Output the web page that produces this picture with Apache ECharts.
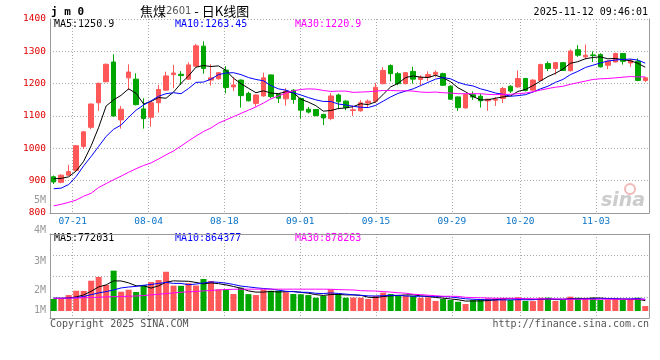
<!DOCTYPE html>
<html><head><meta charset="utf-8">
<script src="https://cdn.jsdelivr.net/npm/echarts@6/dist/echarts.min.js"></script>
<style>html,body{margin:0;padding:0;background:#fff}#c{width:660px;height:360px}</style>
</head><body><div id="c"></div>
<script>
// ---- data ----
const dates = ['07-16','07-17','07-18','07-21','07-22','07-23','07-24','07-25','07-28','07-29','07-30','07-31',
 '08-01','08-04','08-05','08-06','08-07','08-08','08-11','08-12','08-13','08-14','08-15','08-18','08-19','08-20','08-21','08-22','08-25','08-26','08-27','08-28','08-29',
 '09-01','09-02','09-03','09-04','09-05','09-08','09-09','09-10','09-11','09-12','09-15','09-16','09-17','09-18','09-19','09-22','09-23','09-24','09-25','09-26','09-29','09-30',
 '10-09','10-10','10-13','10-14','10-15','10-16','10-17','10-20','10-21','10-22','10-23','10-24','10-27','10-28','10-29','10-30','10-31',
 '11-03','11-04','11-05','11-06','11-07','11-10','11-11','11-12'];
const labelDates = ['07-21','08-04','08-18','09-01','09-15','09-29','10-20','11-03'];

const opens = [912,895,917,932,1006,1065,1141,1206,1267,1088,
 1218,1214,1122,1096,1141,1180,1228,1229,1214,1254,
 1316,1211,1215,1242,1190,1211,1170,1139,1162,1227,
 1168,1153,1180,1154,1121,1120,1105,1092,1165,1146,
 1117,1116,1140,1146,1200,1256,1231,1200,1238,1213,
 1220,1229,1231,1192,1159,1125,1166,1161,1147,1149,
 1154,1192,1190,1216,1180,1210,1262,1247,1265,1240,
 1305,1283,1289,1290,1257,1267,1293,1264,1269,1210];
const closes = [896,917,928,1008,1051,1137,1201,1260,1100,1121,
 1236,1135,1092,1141,1182,1224,1233,1225,1258,1317,
 1247,1218,1234,1188,1196,1163,1147,1165,1218,1160,
 1155,1177,1151,1118,1112,1101,1094,1162,1144,1126,
 1119,1141,1146,1189,1241,1231,1200,1234,1214,1220,
 1228,1235,1195,1152,1126,1167,1159,1147,1152,1151,
 1185,1177,1216,1179,1211,1259,1247,1265,1241,1301,
 1288,1288,1287,1252,1270,1293,1269,1271,1210,1218];
const highs = [916,919,949,1010,1053,1139,1203,1262,1291,1131,
 1260,1232,1155,1143,1196,1237,1258,1239,1266,1323,
 1331,1260,1236,1254,1220,1213,1175,1167,1234,1229,
 1170,1186,1183,1156,1128,1122,1107,1171,1169,1149,
 1133,1149,1151,1202,1251,1260,1236,1236,1252,1226,
 1238,1241,1234,1195,1160,1169,1176,1169,1153,1159,
 1190,1195,1241,1218,1214,1262,1269,1266,1267,1306,
 1319,1321,1300,1294,1271,1296,1295,1277,1278,1221];
const lows = [890,892,915,930,998,1059,1116,1204,1098,1061,
 1180,1133,1061,1067,1111,1178,1186,1196,1212,1252,
 1231,1194,1213,1170,1177,1126,1145,1129,1160,1155,
 1140,1132,1138,1092,1108,1099,1072,1087,1121,1118,
 1100,1113,1126,1140,1198,1207,1195,1198,1200,1195,
 1208,1220,1193,1150,1116,1123,1150,1126,1116,1131,
 1140,1171,1188,1176,1178,1208,1239,1228,1239,1238,
 1283,1275,1267,1250,1245,1265,1259,1252,1208,1205];

const ma5 = [906,907,912,930,960,1008,1065,1131,1150,1164,
 1184,1170,1137,1145,1157,1155,1174,1201,1224,1251,
 1256,1253,1255,1241,1217,1200,1186,1172,1178,1171,
 1169,1175,1172,1152,1143,1132,1115,1117,1123,1125,
 1129,1138,1135,1144,1167,1190,1201,1219,1224,1220,
 1219,1226,1218,1206,1187,1175,1160,1150,1150,1155,
 1159,1162,1176,1182,1194,1208,1222,1232,1245,1263,
 1268,1277,1281,1283,1277,1278,1274,1271,1263,1250.9];
const ma10 = [875,877,888,913,946,975,1006,1037,1059,1072,
 1096,1118,1134,1147,1161,1169,1172,1169,1185,1204,
 1205,1214,1228,1233,1234,1228,1219,1213,1209,1194,
 1184,1180,1172,1165,1157,1150,1145,1145,1137,1134,
 1130,1127,1126,1133,1146,1159,1170,1177,1184,1194,
 1204,1214,1219,1215,1204,1197,1193,1184,1178,1171,
 1167,1161,1163,1166,1174,1184,1192,1204,1213,1228,
 1238,1250,1257,1264,1270,1273,1275,1276,1273,1263.45];
const ma30 = [822,827,833,840,852,861,879,891,903,914,
 926,937,947,955,967,980,992,1007,1023,1038,
 1052,1063,1078,1088,1098,1108,1118,1128,1140,1153,
 1162,1171,1178,1182,1184,1183,1179,1176,1177,1177,
 1173,1174,1175,1177,1179,1179,1178,1178,1177,1174,
 1173,1174,1172,1171,1169,1169,1169,1169,1167,1166,
 1167,1167,1169,1171,1175,1180,1185,1189,1192,1198,
 1203,1208,1213,1215,1216,1218,1220,1222,1221,1220.9];

const volumes = [900000,900000,1190000,1510000,1500000,2260000,2540000,1940000,3010000,1440000,
 1590000,1420000,1940000,2160000,2310000,2930000,1890000,1880000,2070000,1900000,
 2390000,2240000,1620000,1610000,1270000,1740000,1260000,1190000,1600000,1510000,
 1520000,1400000,1270000,1250000,1190000,990000,1120000,1620000,1270000,990000,
 1000000,990000,900000,1120000,1370000,1270000,1120000,1140000,1130000,990000,
 1020000,750000,900000,820000,690000,520000,820000,900000,950000,950000,
 960000,820000,1020000,750000,740000,990000,1000000,750000,820000,1070000,
 990000,980000,990000,820000,870000,900000,820000,830000,990000,370000];
const volMa5 = [950000,950000,970000,1050000,1200000,1470000,1800000,1950000,2250000,2240000,
 2100000,1880000,1880000,1710000,1880000,2150000,2250000,2230000,2220000,2130000,
 2030000,2100000,2040000,1950000,1830000,1700000,1500000,1410000,1410000,1460000,
 1420000,1440000,1460000,1390000,1330000,1220000,1160000,1230000,1240000,1200000,
 1200000,1170000,1030000,1000000,1080000,1130000,1160000,1200000,1210000,1130000,
 1080000,1010000,960000,900000,840000,740000,750000,750000,780000,830000,
 920000,920000,940000,900000,860000,860000,900000,850000,860000,930000,
 930000,920000,970000,970000,930000,910000,880000,850000,880000,772031];
const volMa10 = [950000,950000,960000,1000000,1080000,1220000,1350000,1450000,1570000,1720000,
 1790000,1840000,1920000,1980000,2060000,2130000,2060000,2060000,1960000,2010000,
 2090000,2170000,2140000,2080000,1980000,1860000,1800000,1730000,1680000,1640000,
 1560000,1470000,1440000,1400000,1390000,1320000,1300000,1350000,1310000,1260000,
 1210000,1170000,1130000,1120000,1140000,1170000,1170000,1120000,1100000,1100000,
 1110000,1080000,1080000,1050000,980000,910000,880000,850000,840000,830000,
 830000,830000,850000,840000,840000,890000,910000,890000,880000,890000,
 900000,910000,910000,920000,930000,920000,900000,910000,930000,864377];
const volMa30 = [950000,950000,960000,970000,990000,1000000,1030000,1050000,1070000,1080000,
 1100000,1120000,1150000,1200000,1250000,1300000,1350000,1400000,1430000,1460000,
 1500000,1530000,1570000,1600000,1620000,1630000,1630000,1630000,1630000,1630000,
 1630000,1630000,1630000,1630000,1630000,1630000,1630000,1620000,1600000,1580000,
 1570000,1520000,1500000,1490000,1450000,1410000,1360000,1330000,1250000,1220000,
 1180000,1140000,1100000,1100000,1090000,1020000,1000000,990000,970000,950000,
 950000,950000,940000,920000,910000,900000,900000,900000,890000,880000,
 880000,880000,880000,880000,880000,880000,880000,880000,880000,878263];

const volTickLabels = ['5M','4M','3M','2M','1M'];
const legendMain = ['MA5:1250.9','MA10:1263.45','MA30:1220.9'];
const legendVol = ['MA5:772031','MA10:864377','MA30:878263'];

// ---- styles ----
const UP = '#FF5858', DOWN = '#00A600';
const MONO = "'DejaVu Sans Mono', 'Liberation Mono', monospace";
const GRID_LINE = {color:'#aaaaaa', type:[1,2], width:1};
const AXIS_LINE = {color:'#999999', width:1};
const showDate = (i, v) => labelDates.indexOf(v) >= 0;

const chart = echarts.init(document.getElementById('c'), null, {renderer:'canvas'});

const txt = (x, y, text, fill, font, align) => ({
  type:'text', x:x, y:y, silent:true,
  style:{text:text, fill:fill, font:font, textAlign:align||'left', textVerticalAlign:'middle'}
});

const graphics = [
  txt(51, 12, 'j m 0', '#000', "bold 11px " + MONO),
  {type:'text', x:140, y:11, silent:true, style:{
    text:'{a|焦煤}{b|2601}{a| - 日K线图}', textVerticalAlign:'middle',
    rich:{a:{fontFamily:"'Noto Sans CJK SC', sans-serif", fontSize:13, fill:'#000'},
          b:{fontFamily:"'DejaVu Sans', sans-serif", fontSize:10, fill:'#555'}}}},
  txt(648, 12, '2025-11-12 09:46:01', '#000', "10px " + MONO, 'right'),
  txt(54, 24, legendMain[0], '#000000', "10px " + MONO),
  txt(175, 24, legendMain[1], '#0000FF', "10px " + MONO),
  txt(295, 24, legendMain[2], '#FF00FF', "10px " + MONO),
  txt(54, 238.5, legendVol[0], '#000000', "10px " + MONO),
  txt(175, 238.5, legendVol[1], '#0000FF', "10px " + MONO),
  txt(295, 238.5, legendVol[2], '#FF00FF', "10px " + MONO),
  txt(46, 200.7, volTickLabels[0], '#999', "10px " + MONO, 'right'),
  txt(46, 230.7, volTickLabels[1], '#999', "10px " + MONO, 'right'),
  txt(46, 261, volTickLabels[2], '#999', "10px " + MONO, 'right'),
  txt(46, 290, volTickLabels[3], '#999', "10px " + MONO, 'right'),
  txt(46, 310, volTickLabels[4], '#999', "10px " + MONO, 'right'),
  txt(50, 324, 'Copyright 2025 SINA.COM', '#555', "10px " + MONO),
  txt(649, 324, 'http://finance.sina.com.cn', '#555', "10px " + MONO, 'right'),
  {type:'circle', shape:{cx:630, cy:189, r:5}, silent:true, style:{fill:'none', stroke:'#f2b8b8', lineWidth:2}},
  txt(601, 201, 'sina', '#cccccc', "italic bold 19px 'DejaVu Sans', sans-serif")
];

const lineS = (data, color, xi, yi) => ({
  type:'line', data:data, xAxisIndex:xi, yAxisIndex:yi, symbol:'none', showSymbol:false,
  silent:true, lineStyle:{color:color, width:1}, itemStyle:{color:color}, z:3
});

chart.setOption({
  animation:false,
  backgroundColor:'#ffffff',
  graphic:graphics,
  grid:[
    {left:50, top:19, width:599, height:194},
    {left:50, top:234, width:599, height:84}
  ],
  xAxis:[
    {gridIndex:0, type:'category', data:dates, boundaryGap:true, position:'bottom', show:false},
    {gridIndex:0, type:'category', data:dates, boundaryGap:false, position:'bottom',
     axisLine:{show:true, onZero:false, lineStyle:AXIS_LINE}, axisTick:{show:false},
     axisLabel:{show:true, interval:showDate, color:'#0A74C8', fontFamily:MONO, fontSize:9.5, margin:4},
     splitLine:{show:true, interval:showDate, lineStyle:GRID_LINE}},
    {gridIndex:1, type:'category', data:dates, boundaryGap:true, position:'bottom', show:false},
    {gridIndex:1, type:'category', data:dates, boundaryGap:false, position:'bottom',
     axisLine:{show:true, onZero:false, lineStyle:AXIS_LINE}, axisTick:{show:false},
     axisLabel:{show:false}, splitLine:{show:true, interval:showDate, lineStyle:GRID_LINE}},
    {gridIndex:1, type:'category', data:dates, position:'top',
     axisLine:{show:true, onZero:false, lineStyle:AXIS_LINE}, axisTick:{show:false},
     axisLabel:{show:false}, splitLine:{show:false}}
  ],
  yAxis:[
    {gridIndex:0, type:'value', min:800, max:1400, interval:100, position:'left',
     axisLine:{show:true, lineStyle:AXIS_LINE}, axisTick:{show:false},
     axisLabel:{color:'#E00000', fontFamily:MONO, fontSize:9.5, margin:4, formatter:v => String(v)},
     splitLine:{show:true, lineStyle:GRID_LINE}},
    {gridIndex:0, type:'value', position:'right', min:800, max:1400,
     axisLine:{show:true, lineStyle:AXIS_LINE}, axisTick:{show:false},
     axisLabel:{show:false}, splitLine:{show:false}},
    {gridIndex:1, type:'value', min:-522388, max:5746268, position:'left',
     axisLine:{show:true, lineStyle:AXIS_LINE}, axisTick:{show:false},
     axisLabel:{show:false}, splitLine:{show:false}},
    {gridIndex:1, type:'value', position:'right', min:0, max:4, interval:1,
     axisLine:{show:true, lineStyle:AXIS_LINE}, axisTick:{show:false},
     axisLabel:{show:false}, splitLine:{show:true, lineStyle:GRID_LINE}}
  ],
  series:[
    {type:'candlestick', xAxisIndex:0, yAxisIndex:0, barWidth:5, silent:true,
     data:dates.map((d, i) => [opens[i], closes[i], lows[i], highs[i]]),
     itemStyle:{color:UP, color0:DOWN, borderColor:UP, borderColor0:DOWN, borderWidth:1}},
    lineS(ma5, '#000000', 0, 0),
    lineS(ma10, '#0000FF', 0, 0),
    lineS(ma30, '#FF00FF', 0, 0),
    {type:'bar', xAxisIndex:2, yAxisIndex:2, barWidth:6, silent:true,
     data:volumes.map((v, i) => ({value:v, itemStyle:{color: closes[i] >= opens[i] ? UP : DOWN}}))},
    lineS(volMa5, '#000000', 2, 2),
    lineS(volMa10, '#0000FF', 2, 2),
    lineS(volMa30, '#FF00FF', 2, 2)
  ]
});
</script>
</body></html>
